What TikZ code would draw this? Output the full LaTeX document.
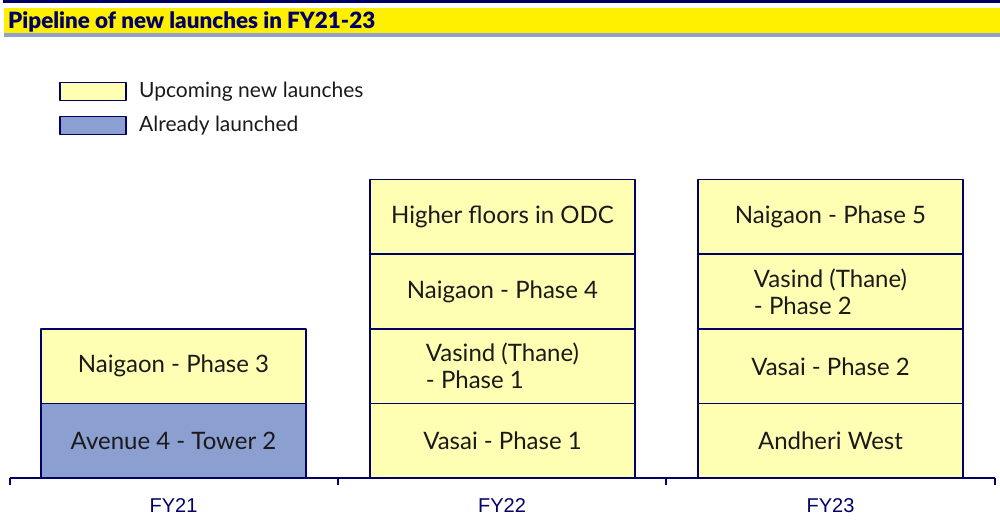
\documentclass[tikz,border=0pt]{standalone}
\usepackage{fontspec}
\setmainfont{Lato}
\newfontfamily\titlefont{Lato Black}
\newfontfamily\axisfont{Liberation Sans}
\usetikzlibrary{positioning}
\definecolor{navy}{HTML}{000066}
\definecolor{headyellow}{HTML}{FFF000}
\definecolor{bandblue}{HTML}{8FA2CC}
\definecolor{upfill}{HTML}{FFFFB3}
\definecolor{donefill}{HTML}{8C9FD1}
\definecolor{inkgrey}{HTML}{1A1A1A}
\tikzset{
  pilebox/.style={draw=navy, line width=1.6pt, minimum width=265pt, minimum height=74.75pt,
    inner sep=0pt, outer sep=0pt, text=inkgrey, align=left, font=\fontsize{24}{27}\selectfont},
  upbox/.style={pilebox, fill=upfill},
  donebox/.style={pilebox, fill=donefill},
  keybox/.style={draw=navy, line width=1.6pt, minimum width=66pt, minimum height=18pt,
    inner sep=0pt, outer sep=0pt},
  keytext/.style={inner sep=0pt, anchor=west, text=inkgrey, font=\fontsize{21}{24}\selectfont},
}
\begin{document}
\begin{tikzpicture}[x=1pt, y=-1pt, line join=round]
\useasboundingbox (0,0) rectangle (1000,520);
% title band
\fill[navy] (3,0) rectangle (1000,3);
\fill[headyellow] (4,8) rectangle (1000,33);
\fill[bandblue] (4,33) rectangle (1000,37);
\node[anchor=base west, inner sep=0pt, text=navy, font=\titlefont\fontsize{22.4}{26}\selectfont]
  (title) at (8,28) {Pipeline of new launches in FY21-23};

% legend
\node[keybox, fill=upfill] (keyup) at (93,91.5) {};
\node[keybox, fill=donefill] (keydone) at (93,125.5) {};
\node[keytext, right=13pt of keyup] (keyuptext) {Upcoming new launches};
\node[keytext, right=13pt of keydone] (keydonetext) {Already launched};

% FY21
\node[donebox] (avenue) at (173.5,441) {Avenue 4 - Tower 2};
\node[upbox, above=0pt of avenue] (naigaonthree) {Naigaon - Phase 3};

% FY22
\node[upbox] (vasaione) at (502.5,441) {Vasai - Phase 1};
\node[upbox, above=0pt of vasaione] (vasindone) {Vasind (Thane)\\- Phase 1};
\node[upbox, above=0pt of vasindone] (naigaonfour) {Naigaon - Phase 4};
\node[upbox, above=0pt of naigaonfour] (odc) {Higher floors in ODC};

% FY23
\node[upbox] (andheri) at (830.5,441) {Andheri West};
\node[upbox, above=0pt of andheri] (vasaitwo) {Vasai - Phase 2};
\node[upbox, above=0pt of vasaitwo] (vasindtwo) {Vasind (Thane)\\- Phase 2};
\node[upbox, above=0pt of vasindtwo] (naigaonfive) {Naigaon - Phase 5};

% axis
\draw[navy, line width=2.2pt] (10,478) -- (995,478);
\foreach \x in {10,338,666,995}
  \draw[navy, line width=1.6pt] (\x,478) -- (\x,485);
\foreach \x/\yr in {173.5/FY21,502/FY22,830.5/FY23}
  \node[text=navy, font=\axisfont\fontsize{20}{23}\selectfont] (lab\yr) at (\x,505.5) {\yr};
\end{tikzpicture}
\end{document}
